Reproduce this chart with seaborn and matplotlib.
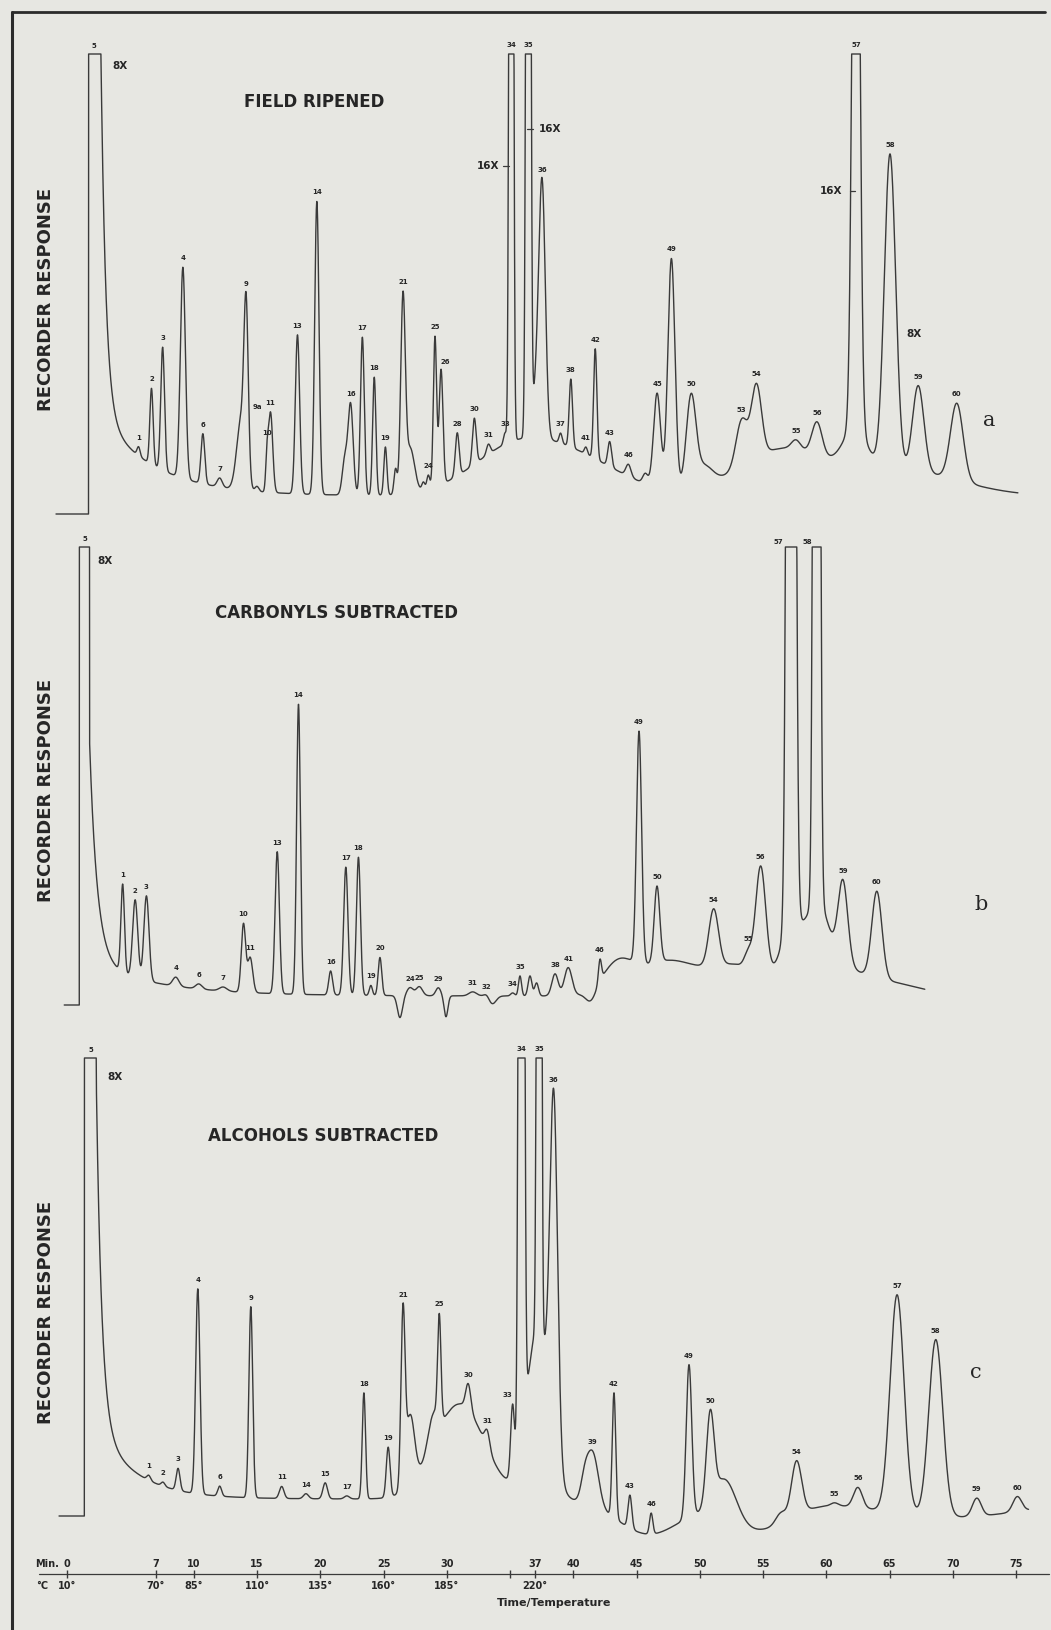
import numpy as np
import pandas as pd
import seaborn as sns
import matplotlib.pyplot as plt
from matplotlib.lines import Line2D

# peak tables: retention time (min), height, sd (min), label
# (unlabelled entries are shoulders / baseline humps)
a_rt = [5.64, 6.66, 7.54, 9.14, 10.72, 12.05, 13.75, 14.14, 15.0, 15.79,
        16.07, 18.2, 19.73, 21.94, 22.4, 23.33, 24.27, 25.15, 25.95, 26.54,
        27.1, 28.15, 28.54, 29.07, 29.55, 30.83, 32.18, 33.29, 34.6, 35.1,
        36.45, 37.2, 37.55, 39.0, 39.81, 41.0, 41.74, 42.88, 44.36, 45.7,
        46.63, 47.76, 49.31, 50.3, 53.32, 54.48, 57.6, 59.27, 62.35, 62.3,
        65.04, 67.27, 70.32, 35.5, 41.0, 56.5, 66.0]
a_ht = [9, 76, 123, 211, 50, 9, 70, 160, 5, 30,
        80, 159, 293, 35, 90, 158, 118, 48, 25, 190,
        45, 8, 14, 150, 115, 43, 46, 10, 11, 2000,
        2000, 60, 223, 10, 68, 7, 110, 25, 12, 10,
        94, 231, 88, 20, 46, 72, 9, 33, 900, 40,
        315, 86, 77, 48, 28, 45, 25]
a_sd = [0.12, 0.13, 0.15, 0.2, 0.15, 0.2, 0.35, 0.17, 0.15, 0.1,
        0.17, 0.17, 0.17, 0.2, 0.2, 0.15, 0.13, 0.12, 0.12, 0.18,
        0.35, 0.12, 0.12, 0.13, 0.15, 0.15, 0.15, 0.15, 0.12, 0.12,
        0.13, 0.35, 0.25, 0.12, 0.13, 0.12, 0.13, 0.15, 0.2, 0.2,
        0.28, 0.28, 0.38, 0.7, 0.45, 0.4, 0.35, 0.4, 0.26, 0.9,
        0.45, 0.45, 0.5, 3.5, 3.5, 3.5, 4.5]
a_lab = ["1", "2", "3", "4", "6", "7", "", "9", "9a", "10",
         "11", "13", "14", "", "16", "17", "18", "19", "", "21",
         "", "", "24", "25", "26", "28", "30", "31", "33", "34",
         "35", "", "36", "37", "38", "41", "42", "43", "46", "",
         "45", "49", "50", "", "53", "54", "55", "56", "57", "",
         "58", "59", "60", "", "", "", ""]

b_rt = [4.38, 5.37, 6.26, 8.58, 10.4, 12.32, 13.93, 14.46, 16.6, 18.28,
        20.82, 22.02, 23.02, 24.0, 24.72, 26.3, 27.1, 27.83, 29.33, 29.94,
        32.05, 33.16, 33.6, 35.21, 35.79, 36.58, 37.1, 38.56, 39.6, 41.4,
        42.11, 43.5, 45.2, 46.62, 47.5, 51.1, 53.0, 53.83, 54.82, 57.22,
        57.2, 59.24, 59.3, 59.5, 61.32, 64.0, 64.0]
b_ht = [88, 78, 85, 9, 5, 4, 68, 35, 142, 290,
        24, 128, 138, 10, 38, -22, 8, 9, 8, -21,
        4, 3, -8, 3, 20, 20, 13, 22, 28, -12,
        22, 27, 232, 76, 35, 57, 28, 15, 108, 2500,
        50, 2500, 55, 35, 81, 87, 15]
b_sd = [0.14, 0.2, 0.2, 0.25, 0.25, 0.3, 0.17, 0.2, 0.17, 0.15,
        0.15, 0.17, 0.16, 0.12, 0.14, 0.2, 0.25, 0.25, 0.2, 0.15,
        0.3, 0.2, 0.3, 0.15, 0.12, 0.15, 0.15, 0.25, 0.3, 0.4,
        0.12, 1.2, 0.2, 0.22, 2.5, 0.38, 2.0, 0.3, 0.4, 0.234,
        0.8, 0.18, 0.8, 2.0, 0.38, 0.4, 3.0]
b_lab = ["1", "2", "3", "4", "6", "7", "10", "11", "13", "14",
         "16", "17", "18", "19", "20", "", "24", "25", "29", "",
         "31", "32", "", "34", "35", "", "", "38", "41", "",
         "46", "", "49", "50", "", "54", "", "55", "56", "57",
         "", "58", "", "", "59", "60", ""]

c_rt = [6.44, 7.57, 8.76, 10.32, 12.05, 14.51, 16.95, 18.87, 20.39, 22.1,
        23.45, 25.37, 26.54, 27.1, 28.9, 29.41, 31.0, 31.7, 33.2, 35.2,
        35.9, 37.2, 37.3, 38.46, 40.9, 41.54, 43.22, 44.48, 46.0, 46.16,
        49.15, 50.83, 52.0, 54.5, 56.4, 57.65, 60.65, 62.5, 65.6, 68.66,
        70.0, 71.9, 75.1]
c_ht = [5, 4, 22, 205, 10, 191, 12, 5, 16, 3,
        106, 50, 168, 70, 30, 103, 95, 26, 17, 70,
        2500, 170, 2500, 346, 20, 53, 125, 33, -35, 21,
        153, 88, 40, -30, 10, 54, 3, 20, 218, 177,
        -18, 18, 15]
c_sd = [0.15, 0.15, 0.15, 0.17, 0.15, 0.15, 0.18, 0.2, 0.18, 0.2,
        0.13, 0.15, 0.16, 0.35, 0.4, 0.13, 2.0, 0.2, 0.2, 0.15,
        0.15, 0.9, 0.12, 0.3, 0.3, 0.45, 0.14, 0.15, 2.5, 0.13,
        0.22, 0.3, 0.9, 2.5, 0.4, 0.4, 0.3, 0.35, 0.55, 0.55,
        6.0, 0.35, 0.35]
c_lab = ["1", "2", "3", "4", "6", "9", "11", "14", "15", "17",
         "18", "19", "21", "", "", "25", "", "30", "31", "33",
         "34", "", "35", "36", "", "39", "42", "43", "", "46",
         "49", "50", "", "", "", "54", "55", "56", "57", "58",
         "", "59", "60"]

# solvent front: trace start, rise, end of plateau, trace stop, baseline offset,
# fast tail amp/tau, slow tail amp/tau, pen limit
a_front = [-0.89, 1.69, 2.57, 75.15, 18, 458, 0.39, 82, 4.3, 460]
b_front = [-0.24, 0.96, 1.77, 67.8, 9, 218, 0.6, 34, 5.5, 458]
c_front = [-0.65, 1.36, 2.3, 76.0, 17, 339, 0.43, 74.6, 3.0, 458]

tick_min = [0, 7, 10, 15, 20, 25, 30, 35, 37, 40, 45, 50, 55, 60, 65, 70, 75]
tick_lab = ["0", "7", "10", "15", "20", "25", "30", "", "37", "40", "45", "50",
            "55", "60", "65", "70", "75"]
temp_min = [0, 7, 10, 15, 20, 25, 30, 37]
temp_lab = ["10°", "70°", "85°", "110°", "135°", "160°", "185°", "220°"]

BG = "#e7e7e2"
INK = "#3a3a3a"
TXT = "#262626"
W, H = 1051, 1630
XMIN, XMAX = -67.25 / 12.65, (W - 67.25) / 12.65


def trace(rt, ht, sd, front):
    start, rise, end, stop, base, a1, t1, a2, t2, top = front
    t = np.arange(start, stop, 0.01)
    y = np.zeros_like(t)
    after = t > end
    y[after] = base + a1 * np.exp(-(t[after] - end) / t1) + a2 * np.exp(-(t[after] - end) / t2)
    y[(t >= rise) & (t <= end)] = top
    for c, h, s in zip(rt, ht, sd):
        y += h * np.exp(-0.5 * ((t - c) / s) ** 2)
    y = np.minimum(y, top)
    return pd.DataFrame({"min": t, "resp": y})


def band(fig, top_px, bot_px, zero_px):
    ax = fig.add_axes([0, 1 - bot_px / H, 1, (bot_px - top_px) / H])
    ax.set_xlim(XMIN, XMAX)
    ax.set_ylim(zero_px - bot_px, zero_px - top_px)
    ax.axis("off")
    return ax


def draw_panel(ax, rt, ht, sd, lab, front, shift):
    df = trace(rt, ht, sd, front)
    sns.lineplot(data=df, x="min", y="resp", ax=ax, color=INK, linewidth=1.0,
                 estimator=None, sort=False, legend=False)
    ax.set_xlim(XMIN, XMAX)
    ax.axis("off")
    t = df["min"].values
    y = df["resp"].values
    ax.text((front[1] + front[2]) / 2, front[9] + 8, "5", fontsize=5, fontweight="bold",
            ha="center", va="center", color=TXT)
    for c, l in zip(rt, lab):
        if not l:
            continue
        dx, dy = shift.get(l, (0, 0))
        top = y[np.argmin(np.abs(t - c))]
        ax.text(c + dx, top + 9 + dy, l, fontsize=5, fontweight="bold",
                ha="center", va="center", color=TXT)


sns.set_theme(style="white")
plt.rcParams["font.family"] = ["DejaVu Sans"]

fig = plt.figure(figsize=(W / 100, H / 100), dpi=100)
fig.patch.set_facecolor(BG)

ax_a = band(fig, 0, 530, 514)
ax_b = band(fig, 520, 1030, 1005)
ax_c = band(fig, 1025, 1560, 1516)
ax_t = band(fig, 1540, 1630, 1573.8)

draw_panel(ax_a, a_rt, a_ht, a_sd, a_lab, a_front, {"9a": (0, 70), "26": (0.3, -2)})
draw_panel(ax_b, b_rt, b_ht, b_sd, b_lab, b_front, {"57": (-1.0, -4), "58": (-0.75, -4)})
draw_panel(ax_c, c_rt, c_ht, c_sd, c_lab, c_front, {"33": (-0.4, 0)})

title_kw = dict(fontsize=12, fontweight="bold", ha="center", va="center", color=TXT)
ax_a.text(19.5, 412, "FIELD RIPENED", **title_kw)
ax_b.text(21.3, 392, "CARBONYLS SUBTRACTED", **title_kw)
ax_c.text(20.2, 380, "ALCOHOLS SUBTRACTED", **title_kw)

note_kw = dict(fontsize=7.5, fontweight="bold", ha="center", va="center", color=TXT)
ax_a.text(4.17, 448, "8X", **note_kw)
ax_a.text(33.3, 348, "16X", **note_kw)
ax_a.plot([34.45, 34.95], [348, 348], color=INK, lw=0.9)
ax_a.text(38.2, 385, "16X", **note_kw)
ax_a.plot([36.35, 36.8], [385, 385], color=INK, lw=0.9)
ax_a.text(60.35, 323, "16X", **note_kw)
ax_a.plot([61.85, 62.3], [323, 323], color=INK, lw=0.9)
ax_a.text(66.92, 180, "8X", **note_kw)
ax_b.text(2.97, 444, "8X", **note_kw)
ax_c.text(3.77, 439, "8X", **note_kw)

let_kw = dict(fontsize=15, family="DejaVu Serif", ha="center", va="center", color=TXT)
ax_a.text(72.87, 94, "a", **let_kw)
ax_b.text(72.27, 100, "b", **let_kw)
ax_c.text(71.8, 143, "c", **let_kw)

for ypx in [299, 790, 1312]:
    fig.text(46 / W, 1 - ypx / H, "RECORDER RESPONSE", rotation=90, fontsize=13,
             fontweight="bold", ha="center", va="center", color=TXT)

# time / temperature axis
ax_t.plot([-2.2, 77.6], [0, 0], color=INK, lw=0.9)
ax_t.vlines(tick_min, -4, 4, color=INK, lw=1.0)
ax_kw = dict(fontsize=7, fontweight="bold", ha="center", va="center", color=TXT)
for m, l in zip(tick_min, tick_lab):
    ax_t.text(m, 10, l, **ax_kw)
for m, l in zip(temp_min, temp_lab):
    ax_t.text(m, -12, l, **ax_kw)
ax_t.text(-1.6, 10, "Min.", **ax_kw)
ax_t.text(-2.0, -12, "°C", **ax_kw)
ax_t.text(38.5, -29, "Time/Temperature", fontsize=8, fontweight="bold",
          ha="center", va="center", color=TXT)

# page frame
fig.add_artist(Line2D([12 / W, 12 / W], [0, 1 - 12 / H], color="#2b2b2b", lw=2.2))
fig.add_artist(Line2D([12 / W, 1045 / W], [1 - 12 / H, 1 - 12 / H], color="#2b2b2b", lw=2.0))

fig.savefig("out.png", dpi=100, facecolor=BG)
